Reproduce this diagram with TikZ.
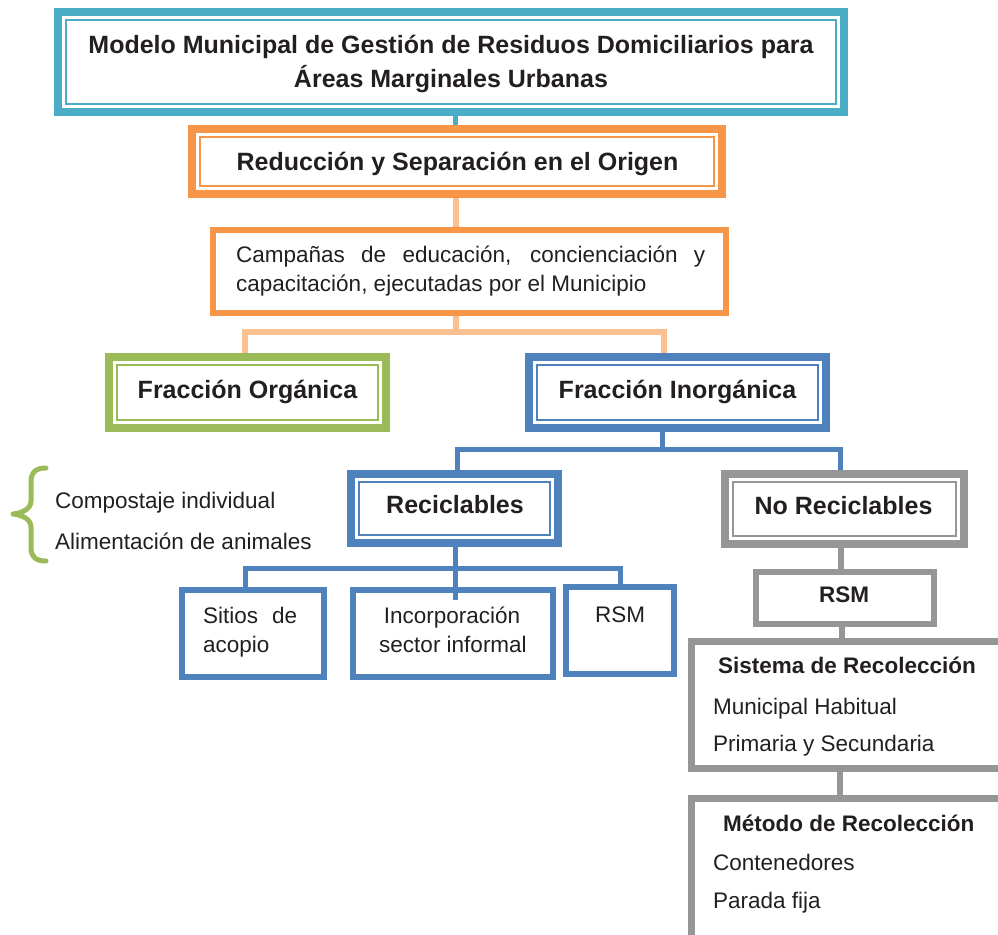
\documentclass[tikz,border=0pt]{standalone}
\usepackage{fontspec}
\setmainfont{Liberation Sans}
\definecolor{cteal}{HTML}{4BACC6}
\definecolor{corange}{HTML}{F79646}
\definecolor{clorange}{HTML}{FAC090}
\definecolor{cgreen}{HTML}{9BBB59}
\definecolor{cblue}{HTML}{4F81BD}
\definecolor{cgray}{HTML}{959698}
\definecolor{ctext}{HTML}{231F20}
\newcommand\innerline[2]{\draw[#2, line width=2pt] ([shift={(12pt,-12pt)}]#1.north west) rectangle ([shift={(-12pt,12pt)}]#1.south east);}
\tikzset{
  frame/.style={draw, fill=none, inner sep=0pt, line join=miter},
  conn/.style={line join=miter, line cap=butt},
  bigt/.style={font=\fontsize{25}{30}\selectfont\bfseries, inner sep=0pt, text=ctext},
  medb/.style={font=\fontsize{22.5}{27}\selectfont\bfseries, inner sep=0pt, text=ctext},
  reg/.style={font=\fontsize{22.5}{27}\selectfont, inner sep=0pt, text=ctext}
}
\begin{document}
\begin{tikzpicture}[x=1pt,y=-1pt]
\useasboundingbox (0,0) rectangle (998,934);
\clip (0,0) rectangle (998,934);

% boxes
\node[frame, draw=cteal, line width=8pt, minimum width=786pt, minimum height=100pt] (top) at (451,62) {};
\innerline{top}{cteal}
\node[frame, draw=corange, line width=8pt, minimum width=530pt, minimum height=65pt] (red) at (457,161.5) {};
\innerline{red}{corange}
\node[frame, draw=corange, line width=6pt, minimum width=513pt, minimum height=83pt] (camp) at (469.5,271.5) {};
\node[frame, draw=cgreen, line width=8pt, minimum width=277pt, minimum height=71pt] (org) at (247.5,392.5) {};
\innerline{org}{cgreen}
\node[frame, draw=cblue, line width=8pt, minimum width=297pt, minimum height=71pt] (inorg) at (677.5,392.5) {};
\innerline{inorg}{cblue}
\node[frame, draw=cblue, line width=8pt, minimum width=207pt, minimum height=69pt] (recic) at (454.5,508.5) {};
\innerline{recic}{cblue}
\node[frame, draw=cgray, line width=8pt, minimum width=239pt, minimum height=70pt] (norec) at (844.5,509) {};
\innerline{norec}{cgray}
\node[frame, draw=cblue, line width=6pt, minimum width=142pt, minimum height=87pt] (sitios) at (253,633.5) {};
\node[frame, draw=cblue, line width=6pt, minimum width=200pt, minimum height=87pt] (incorp) at (453,633.5) {};
\node[frame, draw=cblue, line width=6pt, minimum width=108pt, minimum height=87pt] (rsmb) at (620,630.5) {};
\node[frame, draw=cgray, line width=6pt, minimum width=178pt, minimum height=52pt] (rsmg) at (845,598) {};
\node[frame, draw=cgray, line width=7pt, minimum width=315pt, minimum height=127pt] (sist) at (849,705) {};
\node[frame, draw=cgray, line width=7pt, minimum width=315pt, minimum height=148pt] (metodo) at (849,872.5) {};

% connectors
\draw[conn, cteal, line width=5pt] ([xshift=-2pt]red.north |- top.south) -- ([xshift=-2pt]red.north);
\draw[conn, clorange, line width=6pt] ([xshift=-1pt]red.south) -- ([xshift=-1pt]red.south |- camp.north);
\coordinate (jo) at (456,332);
\draw[conn, clorange, line width=6pt] ([xshift=-1pt]red.south |- camp.south) -- (jo);
\draw[conn, clorange, line width=6pt] ([xshift=-2.5pt]org.north) |- (jo) -| ([xshift=-13.5pt]inorg.north);
\coordinate (jb) at (457,449);
\draw[conn, cblue, line width=5pt] ([xshift=-15.5pt]inorg.south) -- ([xshift=-15.5pt]inorg.south |- jb);
\draw[conn, cblue, line width=5pt] ([xshift=2.5pt]recic.north) |- (jb) -| ([xshift=-4.5pt]norec.north);
\coordinate (jc) at (455,568);
\coordinate (ie) at (455,600);
\draw[conn, cblue, line width=5pt] ([xshift=0.5pt]recic.south) -- (ie);
\draw[conn, cblue, line width=5pt] ([xshift=-8pt]sitios.north) |- (jc) -| (rsmb.north);
\draw[conn, cgray, line width=6pt] ([xshift=-3.5pt]norec.south) -- ([xshift=-3.5pt]norec.south |- rsmg.north);
\draw[conn, cgray, line width=6pt] ([xshift=-3pt]rsmg.south) -- ([xshift=-3pt]rsmg.south |- sist.north);
\draw[conn, cgray, line width=6pt] ([xshift=-5pt]rsmg.south |- sist.south) -- ([xshift=-5pt]rsmg.south |- metodo.north);

% brace
\draw[cgreen, line width=5pt, line cap=round, line join=round] (46,468) .. controls (36,468) and (31,472) .. (31,482) -- (31,501) .. controls (31,509) and (22,513) .. (13,514) .. controls (22,515) and (31,519) .. (31,527) -- (31,548) .. controls (31,557) and (36,561) .. (46,561);

% texts
\node[bigt, anchor=base] (t1) at (451,53) {Modelo Municipal de Gestión de Residuos Domiciliarios para};
\node[bigt, anchor=base] (t2) at (451,87) {Áreas Marginales Urbanas};
\node[bigt, anchor=base] (t3) at (457.5,170) {Reducción y Separación en el Origen};
\node[reg, anchor=base west] (t4) at (236,262) {\makebox[469pt][s]{Campañas de educación, concienciación y}};
\node[reg, anchor=base west] (t5) at (236,291) {capacitación, ejecutadas por el Municipio};
\node[bigt, anchor=base] (t6) at (247.5,398) {Fracción Orgánica};
\node[bigt, anchor=base] (t7) at (677.5,398) {Fracción Inorgánica};
\node[bigt, anchor=base] (t8) at (455,513) {Reciclables};
\node[bigt, anchor=base] (t9) at (843.5,514) {No Reciclables};
\node[reg, anchor=base west] (t10) at (55,508) {Compostaje individual};
\node[reg, anchor=base west] (t11) at (55,549) {Alimentación de animales};
\node[reg, anchor=base west] (t12) at (203,623) {\makebox[94pt][s]{Sitios de}};
\node[reg, anchor=base west] (t13) at (203,652) {acopio};
\node[reg, anchor=base] (t14) at (452,623) {Incorporación};
\node[reg, anchor=base] (t15) at (453,652) {sector informal};
\node[reg, anchor=base] (t16) at (620,622) {RSM};
\node[medb, anchor=base] (t17) at (844,602) {RSM};
\node[medb, anchor=base west] (t18) at (718,673) {Sistema de Recolección};
\node[reg, anchor=base west] (t19) at (713,714) {Municipal Habitual};
\node[reg, anchor=base west] (t20) at (713,751) {Primaria y Secundaria};
\node[medb, anchor=base west] (t21) at (723,831) {Método de Recolección};
\node[reg, anchor=base west] (t22) at (713,870) {Contenedores};
\node[reg, anchor=base west] (t23) at (713,908) {Parada fija};
\end{tikzpicture}
\end{document}
